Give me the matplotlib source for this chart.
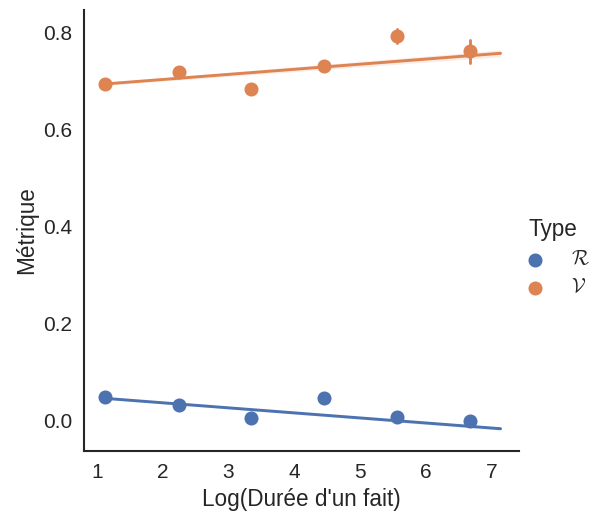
import numpy as np
import matplotlib
matplotlib.use("Agg")
import matplotlib.pyplot as plt
import seaborn as sns

sns.set_theme(style="white")
plt.rcParams['font.family'] = ['Liberation Sans', 'DejaVu Sans']
plt.rcParams['mathtext.fontset'] = 'cm'

# binned estimates (x centers, mean, ci half-width)
x_bins = [1.12, 2.24, 3.34, 4.46, 5.57, 6.68]
r_vals = [0.048, 0.031, 0.004, 0.045, 0.006, -0.001]
r_err = [0.0, 0.0, 0.0, 0.0, 0.0, 0.0]
v_vals = [0.695, 0.720, 0.684, 0.732, 0.794, 0.762]
v_err = [0.0, 0.0, 0.0, 0.0, 0.015, 0.024]

# regression fits (intercept, slope) and raw x range
r_fit = [0.0565, -0.01043]
v_fit = [0.6828, 0.01053]
x_range = [1.12, 7.14]
r_band = [0.002, 0.003]
v_band = [0.003, 0.007]

labels = [r'$\mathcal{R}$', r'$\mathcal{V}$']
colors = sns.color_palette("deep")[:2]

fig = plt.figure(figsize=(594/120, 515/120), dpi=120)
ax = fig.add_axes([0.1414, 0.1243, 0.8737 - 0.1414, 0.9806 - 0.1243])

series = [(r_vals, r_err, r_fit, r_band), (v_vals, v_err, v_fit, v_band)]
for (vals, err, fit, band), c, lab in zip(series, colors, labels):
    ax.scatter(x_bins, vals, s=55, color=c, label=lab, zorder=3)
    for xb, v, e in zip(x_bins, vals, err):
        if e > 0:
            ax.plot([xb, xb], [v - e, v + e], color=c, lw=1.75, zorder=3)
    xs = np.linspace(x_range[0], x_range[1], 50)
    ys = fit[0] + fit[1] * xs
    hw = np.interp(xs, x_range, band)
    ax.fill_between(xs, ys - hw, ys + hw, color=c, alpha=0.15, lw=0)
    ax.plot(xs, ys, color=c, lw=1.75, zorder=2)

ax.set_xlim(0.802, 7.42)
ax.set_ylim(-0.064, 0.8475)
ax.set_xticks([1, 2, 3, 4, 5, 6, 7])
ax.set_yticks([0.0, 0.2, 0.4, 0.6, 0.8])
ax.set_xlabel("Log(Durée d'un fait)", fontsize=13.5, labelpad=4)
ax.set_ylabel("Métrique", fontsize=13.5, labelpad=3)
ax.tick_params(axis='both', labelsize=12.5, length=0, pad=7)
sns.despine(ax=ax)

leg = fig.legend(loc='center left', bbox_to_anchor=(0.854, 0.5), title="Type",
                 frameon=False, fontsize=12, title_fontsize=13.5,
                 borderaxespad=0, labelspacing=0.45)

fig.savefig("out.png", dpi=120)
